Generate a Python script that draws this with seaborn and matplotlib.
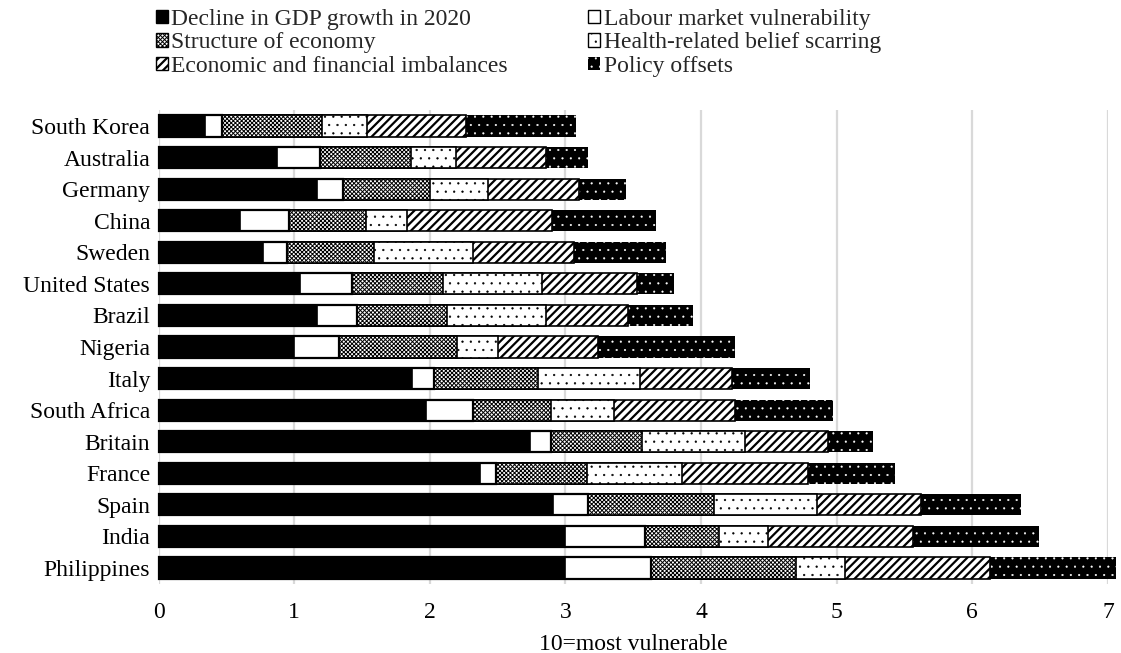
import matplotlib
matplotlib.use("Agg")
import matplotlib.pyplot as plt
from matplotlib.patches import Patch
import numpy as np
import pandas as pd
import seaborn as sns

countries = ["South Korea", "Australia", "Germany", "China", "Sweden", "United States",
             "Brazil", "Nigeria", "Italy", "South Africa", "Britain", "France", "Spain",
             "India", "Philippines"]
gdp_decline = [0.34, 0.87, 1.17, 0.60, 0.77, 1.04, 1.17, 1.00, 1.87, 1.97, 2.74, 2.37, 2.91, 3.00, 3.00]
labour_market = [0.125, 0.32, 0.19, 0.36, 0.18, 0.39, 0.29, 0.33, 0.16, 0.35, 0.155, 0.12, 0.255, 0.59, 0.63]
structure = [0.74, 0.67, 0.64, 0.57, 0.64, 0.67, 0.67, 0.87, 0.77, 0.57, 0.67, 0.67, 0.93, 0.54, 1.07]
health_scarring = [0.33, 0.33, 0.43, 0.30, 0.73, 0.73, 0.73, 0.30, 0.75, 0.47, 0.76, 0.70, 0.76, 0.36, 0.36]
imbalances = [0.73, 0.67, 0.67, 1.07, 0.74, 0.70, 0.60, 0.74, 0.68, 0.89, 0.61, 0.93, 0.77, 1.07, 1.07]
policy_offsets = [0.81, 0.31, 0.35, 0.77, 0.68, 0.27, 0.48, 1.01, 0.57, 0.72, 0.33, 0.64, 0.73, 0.93, 0.93]

series_names = ["Decline in GDP growth in 2020", "Labour market vulnerability",
                "Structure of economy", "Health-related belief scarring",
                "Economic and financial imbalances", "Policy offsets"]
x_ticks = [0, 1, 2, 3, 4, 5, 6, 7]
x_label = "10=most vulnerable"

sns.set_theme(style="white")
plt.rcParams["font.family"] = ["Liberation Serif", "DejaVu Serif"]
FS = 17

series = [gdp_decline, labour_market, structure, health_scarring, imbalances, policy_offsets]
df = pd.DataFrame({"country": countries})
cum = np.zeros(len(countries))
for name, vals in zip(series_names, series):
    cum = cum + np.array(vals)
    df[name] = cum.copy()

# style per series: facecolor, edge/hatch color, hatch, hatch linewidth, outline width
styles = {
    series_names[0]: dict(fc="black", ec="black", hatch=None, hlw=1.0, lw=1.2),
    series_names[1]: dict(fc="white", ec="black", hatch=None, hlw=1.0, lw=1.6),
    series_names[2]: dict(fc="white", ec="black", hatch="xxxxxxxx", hlw=0.7, lw=1.2),
    series_names[3]: dict(fc="white", ec="black", hatch="..", hlw=0.4, lw=1.2),
    series_names[4]: dict(fc="white", ec="black", hatch="////", hlw=1.6, lw=1.2),
    series_names[5]: dict(fc="black", ec="white", hatch="..", hlw=0.3, lw=0.0),
}


def with_hatch_lw(artist, lw):
    """Make sure the hatch linewidth is used whether it is read at creation or draw time."""
    if hasattr(artist, "set_hatch_linewidth"):
        try:
            artist.set_hatch_linewidth(lw)
        except Exception:
            pass
    orig = artist.draw

    def draw(renderer, _orig=orig, _lw=lw):
        with plt.rc_context({"hatch.linewidth": _lw}):
            _orig(renderer)
    artist.draw = draw


fig = plt.figure(figsize=(11.21, 6.53), dpi=100)
W, H = 1121, 653
ax = fig.add_axes([158.5 / W, 1 - 583.8 / H, (1108 - 158.5) / W, (583.8 - 110.2) / H])

for name in reversed(series_names):
    st = styles[name]
    with plt.rc_context({"hatch.linewidth": st["hlw"]}):
        n_before = len(ax.patches)
        sns.barplot(data=df, x=name, y="country", orient="h", color=st["fc"],
                    saturation=1, width=0.67, edgecolor=st["ec"], linewidth=st["lw"],
                    hatch=st["hatch"], ax=ax, zorder=3)
        for p in ax.patches[n_before:]:
            p.set_facecolor(st["fc"])
            p.set_clip_on(False)
            with_hatch_lw(p, st["hlw"])

ax.set_xlim(0, 7)
ax.set_xticks(x_ticks)
ax.set_xticklabels([str(t) for t in x_ticks])
ax.grid(axis="x", color="#d9d9d9", linewidth=1.6, zorder=0)
ax.grid(axis="y", visible=False)
for s in ax.spines.values():
    s.set_visible(False)
ax.tick_params(axis="both", length=0, labelsize=FS, colors="black")
ax.tick_params(axis="y", pad=6)
ax.tick_params(axis="x", pad=13)
ax.set_ylabel("")
ax.set_xlabel(x_label, fontsize=FS, labelpad=8, color="black")

handles = []
order = [0, 2, 4, 1, 3, 5]
for i in order:
    st = styles[series_names[i]]
    with plt.rc_context({"hatch.linewidth": st["hlw"]}):
        h = Patch(facecolor=st["fc"], edgecolor=st["ec"], hatch=st["hatch"],
                  linewidth=1.0 if st["lw"] > 0 else 0.0, label=series_names[i])
    handles.append(h)

leg = fig.legend(handles=handles, loc="upper left", bbox_to_anchor=(156 / W, 1 - 9 / H),
                 ncol=2, frameon=False, fontsize=FS, borderpad=0, borderaxespad=0,
                 handlelength=0.5, handleheight=0.5, handletextpad=0.15,
                 columnspacing=3.4, labelspacing=0.1)
for h, i in zip(leg.legend_handles, order):
    with_hatch_lw(h, styles[series_names[i]]["hlw"])

fig.savefig("out.png", dpi=100)
